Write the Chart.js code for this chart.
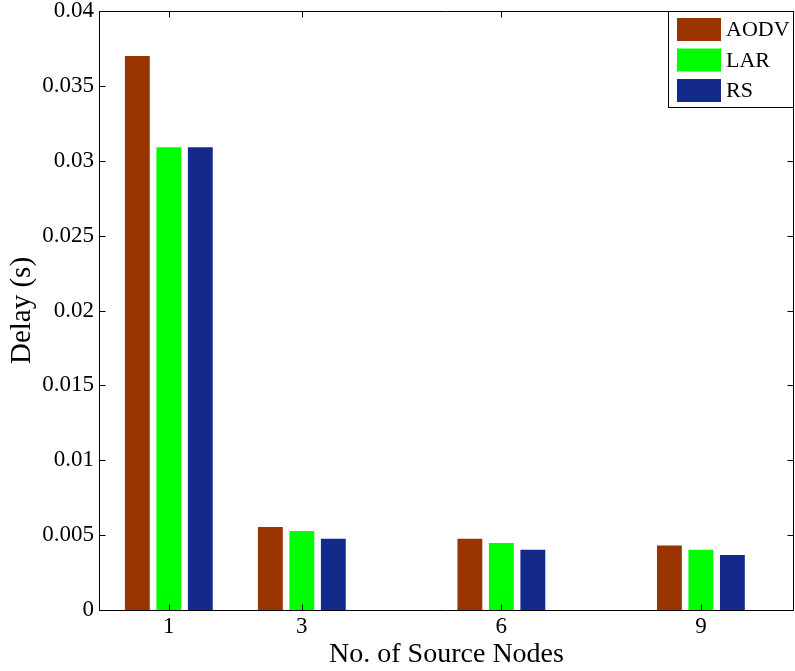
<!DOCTYPE html>
<html>
<head>
<meta charset="utf-8">
<script src="https://cdn.jsdelivr.net/npm/chart.js@4"></script>
<style>
  html, body { margin: 0; padding: 0; background: #fff; }
  #wrap { width: 795px; height: 671px; }
</style>
</head>
<body>
<div id="wrap"><canvas id="delay"></canvas></div>
<script>
// source node counts (x positions of the bar groups)
const sourceNodes = [1, 3, 6, 9];
const seriesNames = ['AODV', 'LAR', 'RS'];
const aodvDelay = [0.0370, 0.00555, 0.00476, 0.00431];
const larDelay = [0.0309, 0.00527, 0.00447, 0.00402];
const rsDelay = [0.0309, 0.00476, 0.00402, 0.00367];
const yTicks = [0, 0.005, 0.01, 0.015, 0.02, 0.025, 0.03, 0.035, 0.04];

const colors = ['#993300', '#00ff00', '#132a8a'];
const font = "'Liberation Serif', 'Times New Roman', serif";

const toPoints = arr => arr.map((v, i) => ({ x: sourceNodes[i], y: v }));

// matlab style frame with inward ticks
const framePlugin = {
    id: 'frame',
    afterDatasetsDraw(chart) {
        const ctx = chart.ctx;
        const a = chart.chartArea;
        const l = a.left + 0.5, r = a.right - 0.5, t = a.top + 0.5, b = a.bottom + 0.5;
        ctx.save();
        ctx.strokeStyle = '#000';
        ctx.lineWidth = 1;
        ctx.beginPath();
        ctx.rect(l, t, r - l, b - t);
        chart.scales.y.ticks.forEach(tk => {
            const y = Math.round(chart.scales.y.getPixelForValue(tk.value)) + 0.5;
            ctx.moveTo(l, y); ctx.lineTo(l + 6, y);
            ctx.moveTo(r, y); ctx.lineTo(r - 6, y);
        });
        chart.scales.x.ticks.forEach(tk => {
            const x = Math.round(chart.scales.x.getPixelForValue(tk.value)) + 0.5;
            ctx.moveTo(x, b); ctx.lineTo(x, b - 6);
            ctx.moveTo(x, t); ctx.lineTo(x, t + 6);
        });
        ctx.stroke();
        ctx.restore();
    },
    afterDraw(chart) {
        // legend box in the top right corner
        const ctx = chart.ctx;
        const a = chart.chartArea;
        const w = 126, h = 96;
        const x0 = a.right - w, y0 = a.top;
        ctx.save();
        ctx.fillStyle = '#fff';
        ctx.fillRect(x0, y0, w, h);
        ctx.strokeStyle = '#000';
        ctx.lineWidth = 1;
        ctx.strokeRect(x0 + 0.5, y0 + 0.5, w - 1, h);
        ctx.font = '22px ' + font;
        ctx.textBaseline = 'middle';
        chart.data.datasets.forEach((ds, i) => {
            const top = y0 + 7 + i * 30.5;
            ctx.fillStyle = ds.backgroundColor;
            ctx.fillRect(x0 + 9, top, 44, 23);
            ctx.fillStyle = '#000';
            ctx.fillText(ds.label, x0 + 58, top + 12.5);
        });
        ctx.restore();
    }
};

new Chart(document.getElementById('delay'), {
    type: 'bar',
    data: {
        datasets: [
            { label: seriesNames[0], data: toPoints(aodvDelay), backgroundColor: colors[0] },
            { label: seriesNames[1], data: toPoints(larDelay), backgroundColor: colors[1] },
            { label: seriesNames[2], data: toPoints(rsDelay), backgroundColor: colors[2] }
        ]
    },
    options: {
        responsive: true,
        maintainAspectRatio: false,
        animation: false,
        categoryPercentage: 0.71,
        barPercentage: 0.79,
        layout: { padding: { top: 11, right: 1, left: 0, bottom: 0 } },
        plugins: {
            legend: { display: false },
            tooltip: { enabled: false }
        },
        scales: {
            x: {
                type: 'linear',
                offset: false,
                min: -0.05,
                max: 10.4,
                afterBuildTicks: scale => { scale.ticks = sourceNodes.map(v => ({ value: v })); },
                afterFit: scale => { scale.height = 61; scale.paddingLeft = 0; scale.paddingRight = 0; },
                grid: { display: false, drawTicks: false },
                border: { display: false },
                ticks: {
                    padding: 3,
                    color: '#000',
                    font: { family: font, size: 23 },
                    callback: v => String(v)
                },
                title: {
                    display: true,
                    text: 'No. of Source Nodes',
                    color: '#000',
                    padding: { top: 0, bottom: 0 },
                    font: { family: font, size: 28 }
                }
            },
            y: {
                min: 0,
                max: 0.04,
                afterBuildTicks: scale => { scale.ticks = yTicks.map(v => ({ value: v })); },
                afterFit: scale => { scale.width = 99; scale.paddingTop = 0; scale.paddingBottom = 0; },
                grid: { display: false, drawTicks: false },
                border: { display: false },
                ticks: {
                    padding: 5,
                    color: '#000',
                    font: { family: font, size: 23 },
                    callback: v => String(+v.toFixed(3))
                },
                title: {
                    display: true,
                    text: 'Delay (s)',
                    color: '#000',
                    padding: { top: 5, bottom: 0 },
                    font: { family: font, size: 29 }
                }
            }
        }
    },
    plugins: [framePlugin]
});
</script>
</body>
</html>
